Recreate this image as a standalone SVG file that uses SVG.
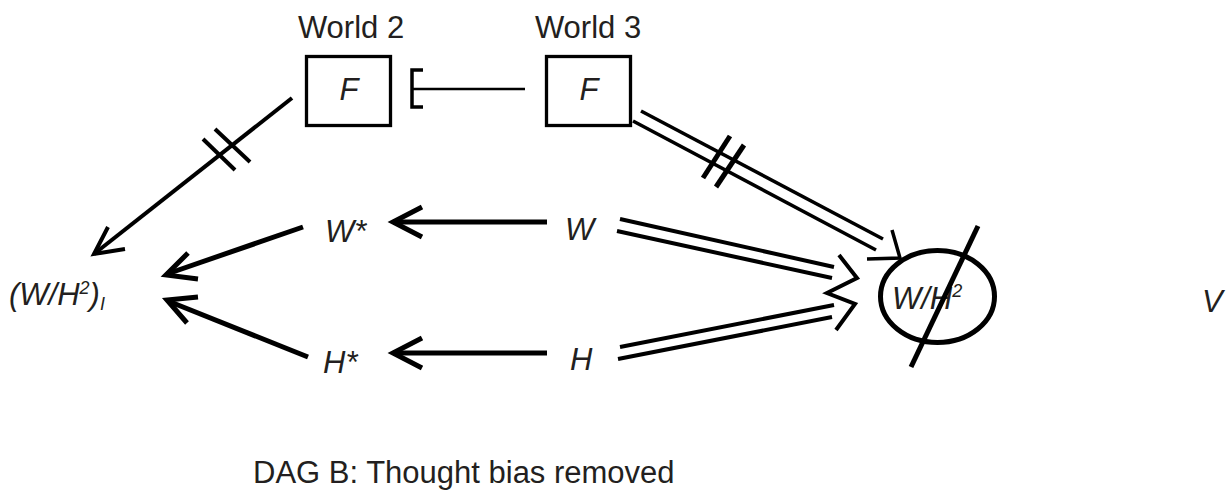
<svg xmlns="http://www.w3.org/2000/svg" width="1228" height="491" viewBox="0 0 1228 491">
<style>
text{font-family:"Liberation Sans",Arial,sans-serif;font-size:31px;fill:#231f20}
.it{font-style:italic}
.box{fill:#fff;stroke:#000;stroke-width:3.3}
.ln{fill:none;stroke:#000;stroke-linecap:butt;stroke-linejoin:miter}
.w5{stroke-width:5}
.w4{stroke-width:4}
.w35{stroke-width:3.5}
.w25{stroke-width:2.5}
</style>
<rect width="1228" height="491" fill="#fff"/>
<g id="connectors">
  <!-- F (World 2) -> (W/H2)_I -->
  <line class="ln w4" x1="292" y1="98" x2="94" y2="254"/>
  <polyline class="ln w4" points="108,227 94,254 125,249"/>
  <line class="ln w4" x1="203" y1="139" x2="235" y2="170"/>
  <line class="ln w4" x1="215" y1="129" x2="250" y2="162"/>
  <!-- F (World 3) -> F (World 2) -->
  <line class="ln w25" x1="525" y1="89" x2="412" y2="89"/>
  <polyline class="ln w35" points="423,70 412,70 412,107 423,107"/>
  <!-- W* -> (W/H2)_I -->
  <line class="ln w5" x1="303" y1="227" x2="167" y2="274"/>
  <polyline class="ln w5" stroke-linecap="round" points="188,253 166,275 198,279"/>
  <!-- H* -> (W/H2)_I -->
  <line class="ln w5" x1="308" y1="357" x2="168" y2="301"/>
  <polyline class="ln w5" stroke-linecap="round" points="198,297 167,300 187,323"/>
  <!-- W -> W* -->
  <line class="ln w5" x1="547" y1="222" x2="394" y2="222"/>
  <polyline class="ln w5" stroke-linecap="round" points="422,207 393,222 422,237"/>
  <!-- H -> H* -->
  <line class="ln w5" x1="547" y1="353" x2="394" y2="353"/>
  <polyline class="ln w5" stroke-linecap="round" points="422,338 393,353 422,368"/>
  <!-- W => W/H2 -->
  <line class="ln w4" x1="620" y1="219" x2="834" y2="267"/>
  <line class="ln w4" x1="617" y1="231" x2="832" y2="278"/>
  <!-- H => W/H2 -->
  <line class="ln w4" x1="620" y1="347" x2="834" y2="305"/>
  <line class="ln w4" x1="618" y1="359" x2="832" y2="317"/>
  <polyline class="ln w4" points="839,255 857,278 827,293 855,304 836,330"/>
  <!-- F (World 3) => W/H2 -->
  <line class="ln w35" x1="641" y1="111" x2="883" y2="239"/>
  <line class="ln w35" x1="633" y1="121" x2="876" y2="250"/>
  <polyline class="ln w35" points="892,230 900,258 867,259"/>
  <line class="ln w5" x1="730" y1="136" x2="703" y2="178"/>
  <line class="ln w5" x1="744" y1="145" x2="716" y2="187"/>
</g>
<g id="node-world2">
  <text x="351" y="38" text-anchor="middle">World 2</text>
  <rect class="box" x="306.5" y="56.5" width="84" height="69"/>
  <text class="it" x="349" y="100" text-anchor="middle">F</text>
</g>
<g id="node-world3">
  <text x="588" y="38" text-anchor="middle">World 3</text>
  <rect class="box" x="546.5" y="56.5" width="84" height="69"/>
  <text class="it" x="589" y="100" text-anchor="middle">F</text>
</g>
<g id="node-whi">
  <text class="it" x="9" y="305">(W/H<tspan dy="-11" font-size="18">2</tspan><tspan dy="11">)</tspan><tspan dy="5" font-size="18">I</tspan></text>
</g>
<g id="node-wstar">
  <text class="it" x="325" y="242">W*</text>
</g>
<g id="node-hstar">
  <text class="it" x="323" y="373">H*</text>
</g>
<g id="node-w">
  <text class="it" x="565" y="240">W</text>
</g>
<g id="node-h">
  <text class="it" x="570" y="370">H</text>
</g>
<g id="node-wh2">
  <ellipse cx="937.5" cy="296.5" rx="57" ry="46" fill="none" stroke="#000" stroke-width="5"/>
  <text class="it" x="892" y="309">W/H<tspan dy="-12" font-size="18">2</tspan></text>
  <line class="ln w5" x1="978" y1="226" x2="911" y2="367"/>
</g>
<g id="node-v">
  <text class="it" x="1202" y="312">V</text>
</g>
<g id="caption">
  <text x="253" y="483">DAG B: Thought bias removed</text>
</g>
</svg>
